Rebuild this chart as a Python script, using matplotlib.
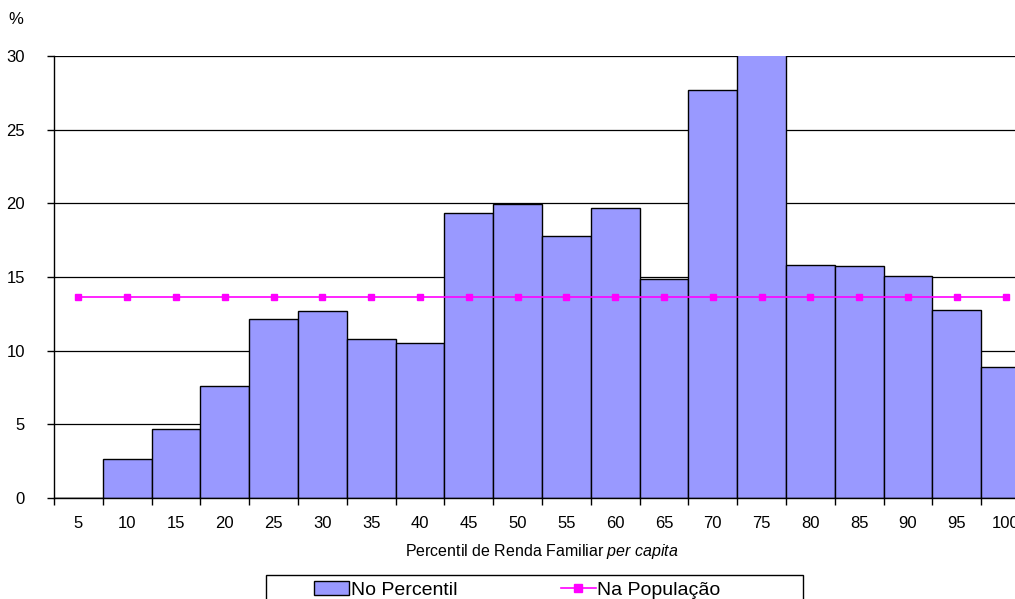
import matplotlib.pyplot as plt
from matplotlib.lines import Line2D
from matplotlib.patches import Patch, Rectangle

plt.rcParams['font.family'] = ['Liberation Sans', 'DejaVu Sans']
plt.rcParams['mathtext.fontset'] = 'custom'
plt.rcParams['mathtext.rm'] = 'Liberation Sans'
plt.rcParams['mathtext.it'] = 'Liberation Sans:italic'

# Data
percentis = ['5', '10', '15', '20', '25', '30', '35', '40', '45', '50',
             '55', '60', '65', '70', '75', '80', '85', '90', '95', '100']
no_percentil = [0.0, 2.67, 4.70, 7.60, 12.15, 12.70, 10.81, 10.54, 19.35, 19.93,
                17.80, 19.71, 14.84, 27.70, 31.0, 15.82, 15.77, 15.07, 12.76, 8.91]
na_populacao = [13.67] * 20

fig = plt.figure(figsize=(10.15, 5.99), dpi=100)
ax = fig.add_axes([54 / 1015, 101 / 599, 976 / 1015, 442 / 599])

x = list(range(len(percentis)))
ax.bar(x, no_percentil, width=1.0, color='#9999FF', edgecolor='black',
       linewidth=1.0, zorder=2)
ax.plot(x, na_populacao, color='#FF00FF', linewidth=1.2, marker='s',
        markersize=5, zorder=3)

ax.set_xlim(-0.5, 19.5)
ax.set_ylim(0, 30)
ax.set_yticks(range(0, 31, 5))
ax.yaxis.grid(True, color='black', linewidth=0.9, zorder=0)
ax.set_axisbelow(True)
for s in ['top', 'right']:
    ax.spines[s].set_visible(False)
ax.spines['left'].set_linewidth(1.0)
ax.spines['bottom'].set_linewidth(1.0)
ax.spines['bottom'].set_zorder(4)

# ticks at category borders, labels at centres
ax.set_xticks([i - 0.5 for i in range(21)])
ax.set_xticklabels([])
ax.set_xticks(x, minor=True)
ax.set_xticklabels(percentis, minor=True)
ax.tick_params(axis='x', which='major', direction='out', length=5, width=1)
ax.tick_params(axis='x', which='minor', length=0, pad=13, labelsize=12)
ax.tick_params(axis='y', direction='out', length=5, width=1, labelsize=12, pad=16)

ax.set_xlabel(r'Percentil de Renda Familiar $\mathit{per\ capita}$',
              fontsize=11.5, labelpad=8)
fig.text(8 / 1015, 1 - 20 / 599, '%', fontsize=12, va='center')

# legend box (runs past the bottom edge)
fig.patches.append(Rectangle((266 / 1015, -0.05), 537 / 1015, 24 / 599 + 0.05,
                             transform=fig.transFigure, fill=False,
                             edgecolor='black', linewidth=1.0))
handles = [Patch(facecolor='#9999FF', edgecolor='black', linewidth=1.0),
           Line2D([], [], color='#FF00FF', linewidth=1.2, marker='s', markersize=6)]
fig.legend(handles, ['No Percentil', 'Na População'], ncol=2,
           loc='center left', bbox_to_anchor=(314 / 1015, 1 - 590 / 599),
           frameon=False, fontsize=14, borderpad=0, handlelength=1.8,
           handletextpad=0.1, columnspacing=5.3, borderaxespad=0)

fig.savefig('out.png', dpi=100)
